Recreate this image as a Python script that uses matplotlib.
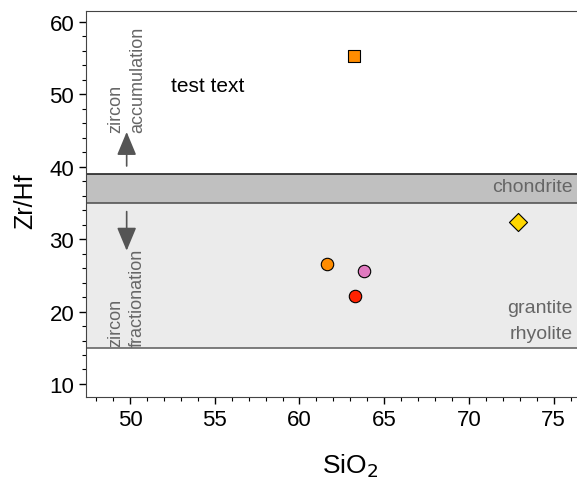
import matplotlib.pyplot as plt
from matplotlib.ticker import MultipleLocator

plt.rcParams['font.family'] = ['Liberation Sans', 'DejaVu Sans']

# samples (SiO2, Zr/Hf)
sio2 = [63.2, 61.6, 63.8, 63.3, 72.9]
zrhf = [55.3, 26.5, 25.6, 22.1, 32.4]
markers = ['s', 'o', 'o', 'o', 'D']
colors = ['#ff8c00', '#ff8c00', '#e07ac0', '#ff2200', '#ffd700']
sizes = [85, 80, 80, 80, 85]

# reference ranges
chondrite = (35, 39)
granite = (15, 35)

fig = plt.figure(figsize=(5.77, 4.81), dpi=100)
ax = fig.add_axes([86 / 577, 1 - 398 / 481, 510 / 577, 386 / 481])

ax.axhspan(granite[0], granite[1], color='#ebebeb', lw=0, zorder=0)
ax.axhspan(chondrite[0], chondrite[1], color='#c0c0c0', lw=0, zorder=0)
ax.axhline(chondrite[1], color='#222222', lw=1.2, zorder=1)
ax.axhline(chondrite[0], color='#555555', lw=1.2, zorder=1)
ax.axhline(granite[0], color='#666666', lw=1.2, zorder=1)

for x, y, m, c, s in zip(sio2, zrhf, markers, colors, sizes):
    ax.scatter(x, y, marker=m, s=s, c=c, edgecolors='black', linewidths=0.8, zorder=3)

ax.set_xlim(47.4, 77.5)
ax.set_ylim(8.2, 61.5)
ax.xaxis.set_major_locator(MultipleLocator(5))
ax.xaxis.set_minor_locator(MultipleLocator(1))
ax.yaxis.set_major_locator(MultipleLocator(10))
ax.yaxis.set_minor_locator(MultipleLocator(2))
ax.tick_params(which='major', direction='out', length=5, width=1, labelsize=16)
ax.tick_params(which='minor', direction='out', length=3, width=0.8)
ax.spines['right'].set_visible(False)
for sp in ['left', 'bottom', 'top']:
    ax.spines[sp].set_color('#444444')

ax.set_xlabel('SiO$_2$', fontsize=19)
ax.set_ylabel('Zr/Hf', fontsize=18)
ax.xaxis.set_label_coords((350 - 86) / 510, -0.14)
ax.yaxis.set_label_coords(-0.095, (398 - 201) / 386)

gray = '#666666'
ax.text(76.1, 37.2, 'chondrite', ha='right', va='center', fontsize=14, color=gray)
ax.text(76.1, 20.6, 'grantite', ha='right', va='center', fontsize=14, color=gray)
ax.text(76.1, 16.9, 'rhyolite', ha='right', va='center', fontsize=14, color=gray)
ax.text(52.4, 51.2, 'test text', ha='left', va='center', fontsize=15, color='black')

ax.text(49.8, 44.8, 'zircon\naccumulation', rotation=90, ha='center', va='bottom',
        multialignment='left', fontsize=13, color=gray, linespacing=1.35)
ax.text(49.8, 15.3, 'zircon\nfractionation', rotation=90, ha='center', va='bottom',
        multialignment='left', fontsize=13, color=gray, linespacing=1.35)
arrow = dict(arrowstyle='-|>,head_length=0.72,head_width=0.3', color='#555555',
             lw=1.2, mutation_scale=20, shrinkA=0, shrinkB=0)
ax.annotate('', xy=(49.8, 44.8), xytext=(49.8, 40.1), arrowprops=arrow)
ax.annotate('', xy=(49.8, 28.4), xytext=(49.8, 33.8), arrowprops=arrow)

fig.savefig('out.png', dpi=100)
